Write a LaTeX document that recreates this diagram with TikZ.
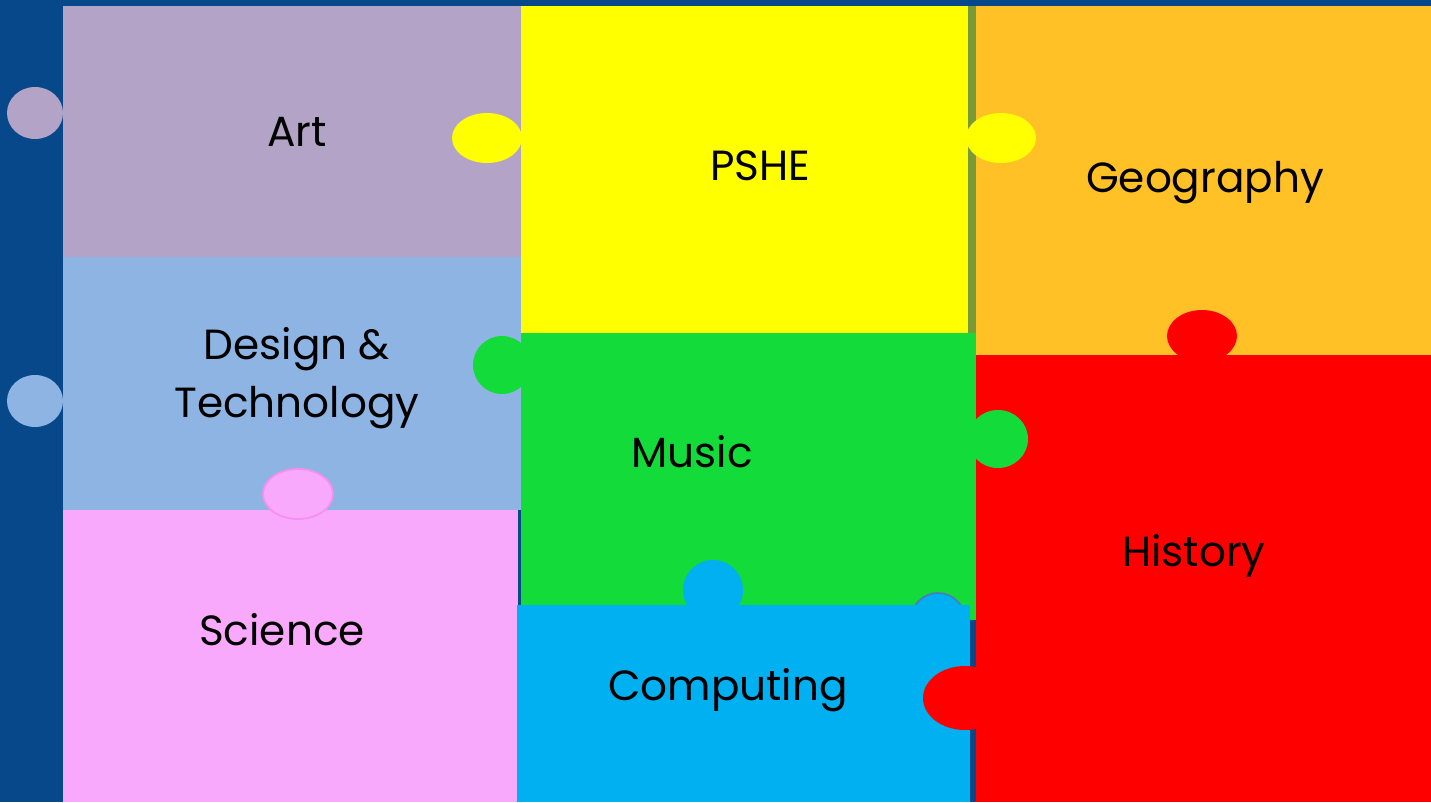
\documentclass[tikz,border=0pt]{standalone}
\usepackage{fontspec}
\setmainfont{Poppins}
\definecolor{bgblue}{HTML}{07488A}
\definecolor{artc}{HTML}{B2A3C7}
\definecolor{dtc}{HTML}{8EB4E3}
\definecolor{scic}{HTML}{F9A9FB}
\definecolor{scib}{HTML}{F78EF2}
\definecolor{pshec}{HTML}{FFFF00}
\definecolor{olive}{HTML}{7A9A3A}
\definecolor{geoc}{HTML}{FFC125}
\definecolor{hisc}{HTML}{FF0000}
\definecolor{musc}{HTML}{13DB39}
\definecolor{compc}{HTML}{00B0F0}
\definecolor{compb}{HTML}{4A7EBB}
\tikzset{
  label/.style={font=\fontsize{24}{33}\selectfont, text=black, align=center, inner sep=0pt},
}
\begin{document}
\begin{tikzpicture}[x=0.02cm,y=-0.02cm]
\useasboundingbox (0,0) rectangle (1431,802);
\fill[bgblue] (0,0) rectangle (1431,802);
% Art
\fill[artc] (63,6) rectangle (521,257);
\fill[artc] (35,113) ellipse [x radius=28, y radius=26];
% Design & Technology
\fill[dtc] (63,257) rectangle (521,510);
\fill[dtc] (35,401) ellipse [x radius=28, y radius=26];
% Science
\fill[scic] (63,510) rectangle (518,802);
\filldraw[fill=scic, draw=scib, line width=1pt] (298,494) ellipse [x radius=35, y radius=25];
% Geography
\fill[geoc] (976,6) rectangle (1431,355);
% History
\fill[hisc] (976,355) rectangle (1431,802);
\fill[hisc] (1202,336) ellipse [x radius=35, y radius=26];
% PSHE
\fill[pshec] (521,6) rectangle (968,333);
\fill[olive] (968,6) rectangle (976,333);
\fill[pshec] (487,138) ellipse [x radius=35, y radius=25];
\fill[pshec] (1001,138) ellipse [x radius=35, y radius=25];
% Music
\fill[musc] (521,333) rectangle (976,620);
\fill[musc] (502,365) ellipse [x radius=29, y radius=29];
\fill[musc] (998,439) ellipse [x radius=30, y radius=29];
% Computing knobs
\fill[compc] (713,590) circle [radius=30];
\filldraw[fill=compc, draw=compb, line width=1pt] (938,620) circle [radius=27];
% Computing
\fill[compc] (517,605) rectangle (970,802);
\fill[bgblue] (970,620) rectangle (976,802);
\fill[hisc] (965,698) ellipse [x radius=42, y radius=32];
% Labels
\node[label] (art) at (297,132) {Art};
\node[label] (pshe) at (760,166) {PSHE};
\node[label] (geo) at (1205,183) {Geography};
\node[label] (dt) at (297,378) {Design \&\\Technology};
\node[label] (music) at (692,452) {Music};
\node[label] (history) at (1194,556) {History};
\node[label] (science) at (282,630) {Science};
\node[label] (computing) at (728,690) {Computing};
\end{tikzpicture}
\end{document}
